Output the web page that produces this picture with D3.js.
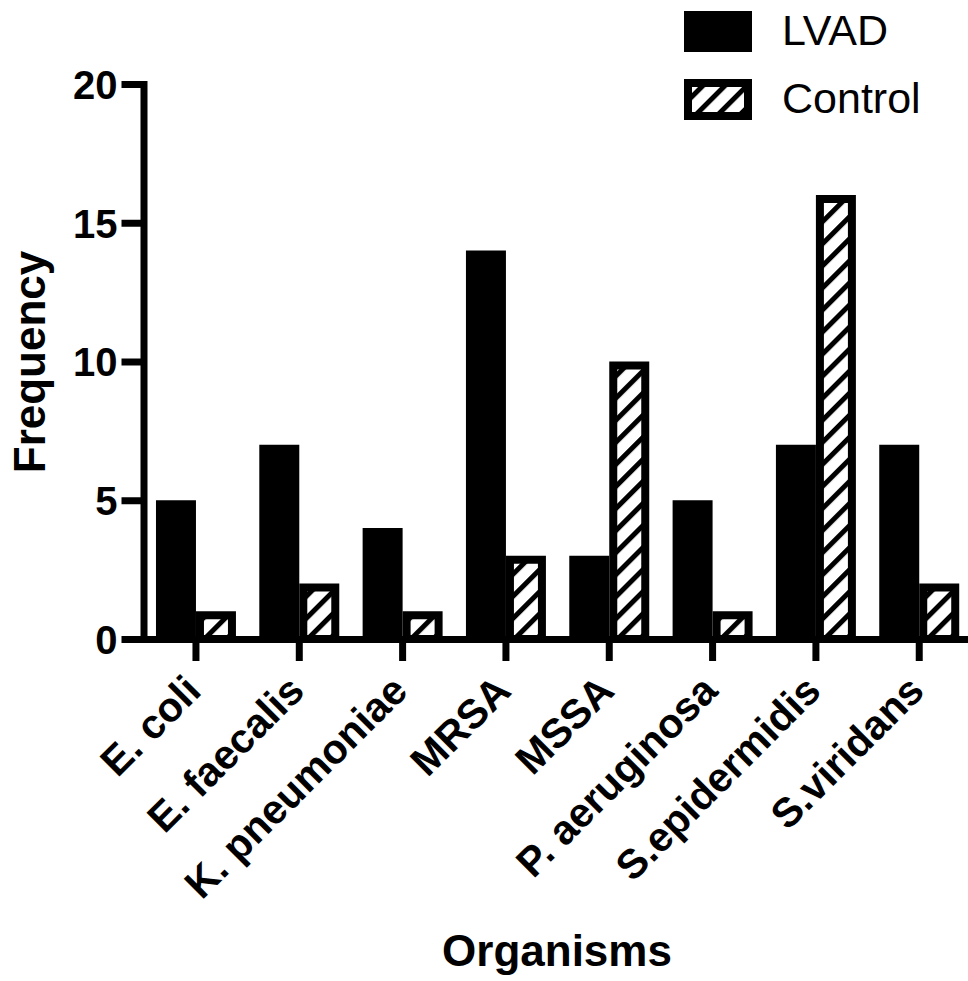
<!DOCTYPE html>
<html>
<head>
<meta charset="utf-8">
<script src="https://cdn.jsdelivr.net/npm/d3@7"></script>
<style>
    body { margin: 0; background: #fff; }
    text { font-family: "Liberation Sans", Arial, sans-serif; fill: #000; }
</style>
</head>
<body>
<script>
var organisms = ["E. coli", "E. faecalis", "K. pneumoniae", "MRSA", "MSSA", "P. aeruginosa", "S.epidermidis", "S.viridans"];
var seriesNames = ["LVAD", "Control"];
var lvadValues = [5, 7, 4, 14, 3, 5, 7, 7];
var controlValues = [1, 2, 1, 3, 10, 1, 16, 2];
var yTicks = [0, 5, 10, 15, 20];

window.onload = function(){
    var w = 968, h = 981;

    var data = organisms.map(function(d, i){
        return { name: d, values: [
            { key: "LVAD", value: lvadValues[i] },
            { key: "Control", value: controlValues[i] }
        ]};
    });

    var svg = d3.select("body")
        .append("svg")
        .attr("width", w)
        .attr("height", h);

    // diagonal hatch for the control bars
    var defs = svg.append("defs");
    var pat = defs.append("pattern")
        .attr("id", "hatch")
        .attr("patternUnits", "userSpaceOnUse")
        .attr("width", 15.6)
        .attr("height", 15.6)
        .attr("patternTransform", "rotate(45)");
    pat.append("rect")
        .attr("width", 15.6)
        .attr("height", 15.6)
        .attr("fill", "#fff");
    pat.append("rect")
        .attr("width", 5)
        .attr("height", 15.6)
        .attr("fill", "#000");

    var x0 = d3.scaleBand()
        .domain(organisms)
        .range([144.3, 970.9])
        .paddingInner(0.226)
        .paddingOuter(0.113);

    var x1 = d3.scaleBand()
        .domain(seriesNames)
        .range([0, x0.bandwidth()]);

    var y = d3.scaleLinear()
        .domain([0, 20])
        .range([639, 84]);

    var groups = svg.selectAll(".group")
        .data(data)
        .enter()
        .append("g")
        .attr("class", "group")
        .attr("transform", function(d){ return "translate(" + x0(d.name) + ",0)"; });

    groups.selectAll("rect")
        .data(function(d){ return d.values; })
        .enter()
        .append("rect")
        .attr("x", function(d){ return d.key == "LVAD" ? x1(d.key) : x1(d.key) + 4; })
        .attr("width", function(d){ return d.key == "LVAD" ? x1.bandwidth() : x1.bandwidth() - 8; })
        .attr("y", function(d){ return d.key == "LVAD" ? y(d.value) : y(d.value) + 4; })
        .attr("height", function(d){ return d.key == "LVAD" ? y(0) - y(d.value) : y(0) - y(d.value) - 4; })
        .attr("fill", function(d){ return d.key == "LVAD" ? "#000" : "url(#hatch)"; })
        .attr("stroke", function(d){ return d.key == "LVAD" ? "none" : "#000"; })
        .attr("stroke-width", 8);

    // axes
    var xAxis = svg.append("g")
        .attr("transform", "translate(0," + y(0) + ")")
        .call(d3.axisBottom(x0).tickSize(22).tickSizeOuter(0));

    xAxis.select(".domain")
        .attr("stroke-width", 7)
        .attr("stroke-linecap", "square");
    xAxis.selectAll(".tick line").attr("stroke-width", 7);
    xAxis.selectAll(".tick text")
        .attr("x", null)
        .attr("y", null)
        .attr("dy", null)
        .attr("text-anchor", "end")
        .attr("transform", "translate(7,54) rotate(-45)")
        .style("font-size", "41px")
        .style("font-weight", "bold");

    var yAxis = svg.append("g")
        .attr("transform", "translate(143.5,0)")
        .call(d3.axisLeft(y).tickValues(yTicks).tickSize(22).tickSizeOuter(0).tickPadding(4));

    yAxis.select(".domain")
        .attr("stroke-width", 7)
        .attr("stroke-linecap", "square");
    yAxis.selectAll(".tick line").attr("stroke-width", 7);
    yAxis.selectAll(".tick text")
        .attr("dy", "0.36em")
        .style("font-size", "40px")
        .style("font-weight", "bold");

    // titles
    svg.append("text")
        .attr("text-anchor", "middle")
        .attr("transform", "translate(45,362) rotate(-90)")
        .style("font-size", "44px")
        .style("font-weight", "bold")
        .text("Frequency");

    svg.append("text")
        .attr("text-anchor", "middle")
        .attr("x", 557)
        .attr("y", 966)
        .style("font-size", "44px")
        .style("font-weight", "bold")
        .text("Organisms");

    // legend
    var legend = svg.selectAll(".legend")
        .data(seriesNames)
        .enter()
        .append("g")
        .attr("class", "legend")
        .attr("transform", function(d, i){ return "translate(684," + (11 + i * 68) + ")"; });

    legend.append("rect")
        .attr("x", function(d){ return d == "LVAD" ? 0 : 4; })
        .attr("y", function(d){ return d == "LVAD" ? 0 : 4; })
        .attr("width", function(d){ return d == "LVAD" ? 68 : 60; })
        .attr("height", function(d){ return d == "LVAD" ? 41 : 33; })
        .attr("fill", function(d){ return d == "LVAD" ? "#000" : "url(#hatch)"; })
        .attr("stroke", function(d){ return d == "LVAD" ? "none" : "#000"; })
        .attr("stroke-width", 8);

    legend.append("text")
        .attr("x", 98)
        .attr("y", 34)
        .style("font-size", "43px")
        .text(function(d){ return d; });
};
</script>
</body>
</html>
